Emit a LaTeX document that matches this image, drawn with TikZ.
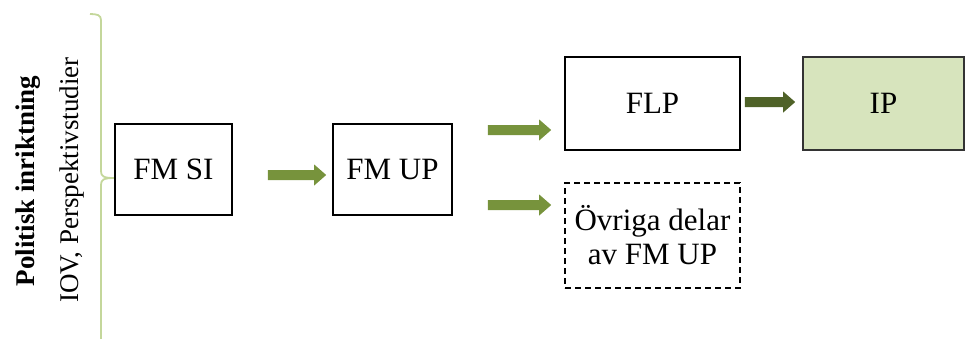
\documentclass[tikz,border=0pt]{standalone}
\usepackage{fontspec}
\setmainfont{Liberation Serif}
\newfontfamily\stageserif{Liberation Serif}
\usetikzlibrary{calc}
\definecolor{arrowgreen}{HTML}{77933C}
\definecolor{darkgreen}{HTML}{4F6228}
\definecolor{bracegreen}{HTML}{C4D79B}
\definecolor{ipfill}{HTML}{D7E4BD}
\tikzset{
  stagebox/.style={draw=black, line width=1.6pt, inner sep=0pt, align=center,
    font=\stageserif\fontsize{31}{34}\selectfont},
  fat/.style={to path={
    ($(\tikztostart)+(0,5)$) -- ($(\tikztotarget)+(-12,5)$) --
    ($(\tikztotarget)+(-12,10.5)$) -- (\tikztotarget) --
    ($(\tikztotarget)+(-12,-10.5)$) -- ($(\tikztotarget)+(-12,-5)$) --
    ($(\tikztostart)+(0,-5)$) -- cycle}},
  sidelabel/.style={rotate=90, inner sep=0pt, font=\stageserif\fontsize{27}{30}\selectfont}
}
\begin{document}
\begin{tikzpicture}[x=1pt, y=-1pt]
  \useasboundingbox (0,0) rectangle (966,338);

  % side labels
  \node[sidelabel, font=\stageserif\fontsize{27}{30}\selectfont\bfseries] (pol) at (28,181) {Politisk inriktning};
  \node[sidelabel] (iov) at (72,180) {IOV, Perspektivstudier};

  % curly brace
  \draw[bracegreen, line width=1.8pt]
    (90,14) .. controls (97,14) and (101,15) .. (101,20) -- (101,171)
    .. controls (101,176) and (103,178) .. (114,178)
    .. controls (103,178) and (101,180) .. (101,185) -- (101,345);

  % stages
  \node[stagebox, minimum width=117pt, minimum height=91pt] (fmsi) at (173.5,169.5) {FM SI};
  \node[stagebox, minimum width=119pt, minimum height=91pt] (fmup) at (392.5,169.5) {FM UP};
  \node[stagebox, minimum width=175pt, minimum height=93pt] (flp) at (652.5,103.5) {FLP};
  \node[stagebox, draw=black!80, fill=ipfill, minimum width=161pt, minimum height=93pt] (ip) at (883.5,103.5) {IP};
  \node[stagebox, dashed, dash pattern=on 6pt off 4pt, minimum width=175pt, minimum height=105pt] (ovr) at (652.5,235.5) {Övriga delar\\av FM UP};

  % connector end points
  \coordinate (a1s) at ($(fmsi.east)+(35,5.5)$);
  \coordinate (a1e) at ($(fmup.west)+(-6,5.5)$);
  \coordinate (a2s) at ($(fmup.east)+(35,-39.5)$);
  \coordinate (a2e) at ($(flp.west)+(-13,26.5)$);
  \coordinate (a3s) at ($(fmup.east)+(35,35.5)$);
  \coordinate (a3e) at ($(ovr.west)+(-13,-30.5)$);
  \coordinate (a4s) at ($(flp.east)+(4,-1.5)$);
  \coordinate (a4e) at ($(ip.west)+(-7,-1.5)$);

  % block arrows
  \fill[arrowgreen] (a1s) to[fat] (a1e);
  \fill[arrowgreen] (a2s) to[fat] (a2e);
  \fill[arrowgreen] (a3s) to[fat] (a3e);
  \fill[darkgreen] (a4s) to[fat] (a4e);
\end{tikzpicture}
\end{document}
